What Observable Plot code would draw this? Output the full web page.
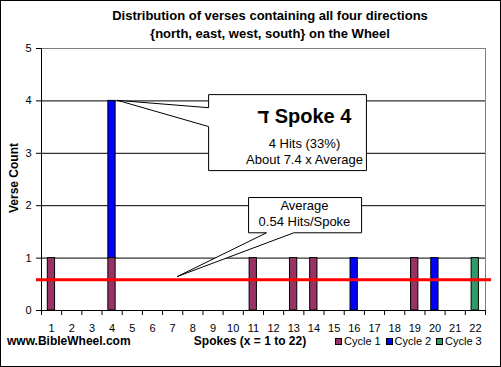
<!DOCTYPE html>
<html><head><meta charset="utf-8">
<script src="https://cdn.jsdelivr.net/npm/d3@7"></script>
<script src="https://cdn.jsdelivr.net/npm/@observablehq/plot@0.6"></script>
<style>
body{margin:0;background:#fff;}
#wrap{position:relative;width:501px;height:367px;overflow:hidden;font-family:Arial,"Liberation Sans",sans-serif;color:#000;}
#wrap svg{position:absolute;left:0;top:0;}
#frame{position:absolute;left:0;top:0;width:499px;height:365px;border:1px solid #000;pointer-events:none;}
.t{position:absolute;white-space:nowrap;}
</style></head><body><div id="wrap"></div>
<script>
// ---- data ----
const spokes = [1,2,3,4,5,6,7,8,9,10,11,12,13,14,15,16,17,18,19,20,21,22];
const cycle1 = [1,0,0,1,0,0,0,0,0,0,1,0,1,1,0,0,0,0,1,0,0,0];
const cycle2 = [0,0,0,3,0,0,0,0,0,0,0,0,0,0,0,1,0,0,0,1,0,0];
const cycle3 = [0,0,0,0,0,0,0,0,0,0,0,0,0,0,0,0,0,0,0,0,0,1];
const cycleNames = ["Cycle 1","Cycle 2","Cycle 3"];
const cycleColors = ["#993366","#0000ff","#339966"];
const yTicks = [0,1,2,3,4,5];
const averageValue = 0.585;
const titleLines = ["Distribution of verses containing all four directions","{north, east, west, south} on the Wheel"];
const yLabel = "Verse Count";
const xLabel = "Spokes (x = 1 to 22)";
const siteLabel = "www.BibleWheel.com";

// annotation callouts (data coordinates)
const spoke4Callout = [
  {x:4.27,y:4.01},{x:8.78,y:3.87},{x:8.78,y:4.12},{x:16.6,y:4.12},
  {x:16.6,y:2.67},{x:8.78,y:2.67},{x:8.78,y:3.51},{x:4.27,y:4.01}
];
const spoke4Text = [
  {x:13.53,y:3.70,text:"ד Spoke 4"},
  {x:13.53,y:3.19,text:"4 Hits (33%)"},
  {x:13.53,y:2.88,text:"About 7.4 x Average"}
];
const avgCallout = [
  {x:7.24,y:0.65},{x:11.65,y:1.483},{x:10.76,y:1.483},{x:10.76,y:2.156},
  {x:16.36,y:2.156},{x:16.36,y:1.483},{x:13.0,y:1.483},{x:7.24,y:0.65}
];
const avgText = [
  {x:13.53,y:2.0,text:"Average"},
  {x:13.53,y:1.685,text:"0.54 Hits/Spoke"}
];

// ---- build ----
const series = [cycle1, cycle2, cycle3];
const rows = [];
spokes.forEach((s,i)=>{
  let acc = 0;
  series.forEach((arr,k)=>{
    const v = arr[i];
    if (v > 0) { rows.push({spoke:s, cycle:cycleNames[k], lo:acc, hi:acc+v}); acc += v; }
  });
});
const boundaries = spokes.map(s=>s-0.5).concat([spokes[spokes.length-1]+0.5]);
const xMin = boundaries[0], xMax = boundaries[boundaries.length-1];

const chart = Plot.plot({
  width:501, height:367,
  marginTop:48, marginRight:16, marginBottom:57, marginLeft:41,
  style:{fontFamily:"Arial, 'Liberation Sans', sans-serif", fontSize:"11px", background:"transparent", color:"#000"},
  x:{type:"linear", domain:[xMin, xMax]},
  y:{domain:[yTicks[0], yTicks[yTicks.length-1]]},
  color:{domain:cycleNames, range:cycleColors},
  marks:[
    Plot.ruleY(yTicks.slice(1,-1), {stroke:"#000", strokeOpacity:1}),
    Plot.ruleY([yTicks[yTicks.length-1]], {stroke:"#808080"}),
    Plot.ruleX([xMax], {stroke:"#808080"}),
    Plot.rectY(rows, {x1:d=>d.spoke-0.5, x2:d=>d.spoke+0.5, y1:"lo", y2:"hi", fill:"cycle", stroke:"#000", strokeWidth:1, insetLeft:6.3, insetRight:6.6}),
    Plot.ruleX([xMin], {stroke:"#000"}),
    Plot.ruleY([0], {stroke:"#000"}),
    Plot.axisY({ticks:yTicks, tickSize:5, tickPadding:5, tickFormat:d=>String(d), label:null, fontSize:11, stroke:"#000"}),
    Plot.axisX({ticks:boundaries, tickSize:5, tickFormat:()=>"", label:null, stroke:"#000"}),
    Plot.axisX({ticks:spokes, tickSize:0, tickPadding:14, tickFormat:d=>String(d), label:null, fontSize:11}),
    Plot.ruleY([{v:averageValue, a:xMin-0.25, b:xMax+0.3}], {y:"v", x1:"a", x2:"b", stroke:"#ff0000", strokeWidth:3}),
    Plot.line(spoke4Callout, {x:"x", y:"y", fill:"white", stroke:"#000", strokeWidth:1, curve:"linear"}),
    Plot.line(avgCallout, {x:"x", y:"y", fill:"white", stroke:"#000", strokeWidth:1, curve:"linear"}),
    Plot.text(spoke4Text.slice(0,1), {x:"x", y:"y", text:"text", fontSize:20, fontWeight:"bold", fill:"#000"}),
    Plot.text(spoke4Text.slice(1), {x:"x", y:"y", text:"text", fontSize:13, fill:"#000"}),
    Plot.text(avgText, {x:"x", y:"y", text:"text", fontSize:13, fill:"#000"})
  ]
});

const wrap = document.getElementById("wrap");
wrap.appendChild(chart);

function addText(txt, css){
  const d = document.createElement("div");
  d.className = "t";
  d.textContent = txt;
  Object.assign(d.style, css);
  wrap.appendChild(d);
  return d;
}
addText(titleLines[0], {left:"0px", width:"540px", textAlign:"center", top:"8px", font:"bold 13px Arial, 'Liberation Sans', sans-serif", lineHeight:"16px"});
addText(titleLines[1], {left:"0px", width:"540px", textAlign:"center", top:"26px", font:"bold 13px Arial, 'Liberation Sans', sans-serif", lineHeight:"16px"});
addText(yLabel, {left:"14px", top:"178px", transform:"translate(-50%,-50%) rotate(-90deg)", font:"bold 12px Arial, 'Liberation Sans', sans-serif", lineHeight:"14px"});
addText(siteLabel, {left:"7px", top:"334px", font:"bold 12px Arial, 'Liberation Sans', sans-serif", lineHeight:"14px"});
addText(xLabel, {left:"250px", top:"334px", transform:"translateX(-50%)", font:"bold 12px Arial, 'Liberation Sans', sans-serif", lineHeight:"14px"});

// legend
cycleNames.forEach((name,i)=>{
  const left = 335 + i*50.5;
  const sw = document.createElement("div");
  Object.assign(sw.style, {position:"absolute", left:left+"px", top:"338px", width:"5px", height:"5px", border:"1px solid #000", background:cycleColors[i]});
  wrap.appendChild(sw);
  addText(name, {left:(left+9)+"px", top:"334px", font:"11px Arial, 'Liberation Sans', sans-serif", lineHeight:"14px"});
});

const frame = document.createElement("div");
frame.id = "frame";
wrap.appendChild(frame);
</script>
</body></html>
